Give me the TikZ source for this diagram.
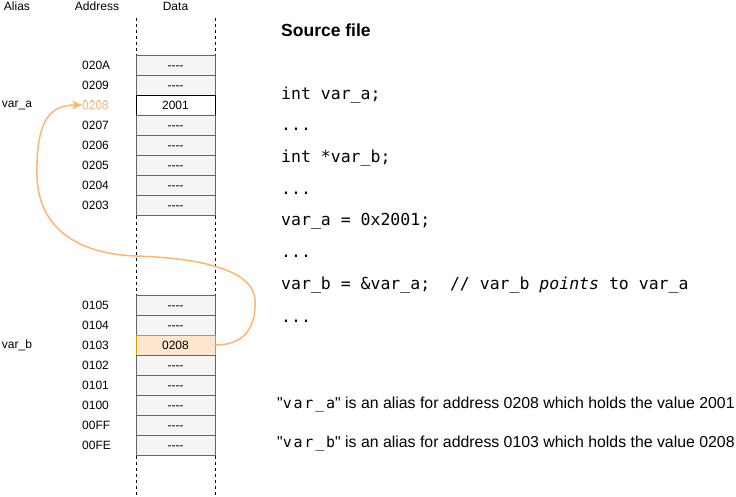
\documentclass[tikz,border=0pt]{standalone}
\usepackage{fontspec}
\setmainfont{Liberation Sans}
\setmonofont{DejaVu Sans Mono}
\newfontfamily\aliasmono[LetterSpace=12]{DejaVu Sans Mono}
\usetikzlibrary{arrows.meta}
\definecolor{cellgray}{HTML}{F5F5F5}
\definecolor{cellline}{HTML}{666666}
\definecolor{ptrfill}{HTML}{FFE6CC}
\definecolor{ptrline}{HTML}{D79B00}
\definecolor{ptrorange}{HTML}{FFB570}
\newcommand\nodata{\hbox{-}\hbox{-}\hbox{-}\hbox{-}}
\newcommand\mononame[1]{\textquotedbl{\aliasmono\fontsize{15}{18}\selectfont #1}\textquotedbl}
\tikzset{
  cell/.style={draw=cellline,fill=cellgray,line width=1pt,minimum width=79pt,minimum height=20pt,inner sep=0pt,text height=8.6pt,text depth=0pt,font=\fontsize{12}{14}\selectfont},
  cellval/.style={cell,draw=black,fill=white},
  cellptr/.style={cell,draw=ptrline,fill=ptrfill},
  addr/.style={anchor=west,inner sep=0pt,text height=8.6pt,text depth=0pt,font=\fontsize{12}{14}\selectfont},
  head/.style={inner sep=0pt,font=\fontsize{12}{14}\selectfont},
  code/.style={anchor=base west,inner sep=0pt,font=\ttfamily\fontsize{16.5}{19}\selectfont},
  note/.style={anchor=west,inner sep=0pt,font=\fontsize{15.85}{19}\selectfont},
  column/.style={line width=1pt,dash pattern=on 3pt off 3pt},
  ptr/.style={draw=ptrorange,line width=1.5pt,-{Stealth[length=10pt,width=9pt,inset=3pt]}}
}
\begin{document}
\begin{tikzpicture}[x=1pt,y=-1pt]
\useasboundingbox (0,0) rectangle (736,496);
%column edges
\draw[column](136,18)--(136,496);
\draw[column](215,18)--(215,496);
%headers
\node[head] (halias) at (17,6) {Alias};
\node[head] (haddr) at (97,6) {Address};
\node[head] (hdata) at (175.5,6) {Data};
%upper block
\foreach \a/\v/\s [count=\i from 0] in {020A/\nodata/cell,0209/\nodata/cell,0208/2001/cellval,0207/\nodata/cell,0206/\nodata/cell,0205/\nodata/cell,0204/\nodata/cell,0203/\nodata/cell}
{
  \node[\s] (c\a) at (175.5,65+20*\i) {\v};
  \node[addr] (a\a) at (82,65+20*\i) {\a};
}
%lower block
\foreach \a/\v/\s [count=\i from 0] in {0105/\nodata/cell,0104/\nodata/cell,0103/0208/cellptr,0102/\nodata/cell,0101/\nodata/cell,0100/\nodata/cell,00FF/\nodata/cell,00FE/\nodata/cell}
{
  \node[\s] (c\a) at (175.5,305+20*\i) {\v};
  \node[addr] (a\a) at (82,305+20*\i) {\a};
}
\node[addr,text=ptrorange,fill=white] at (a0208.west) {0208};
%aliases
\node[head] (vara) at (17,105) {var\_a};
\node[head] (varb) at (17,345) {var\_b};
%pointer
\draw[ptr] (c0103.east) .. controls (250,345) and (256,320) .. (255,300)
  .. controls (254,270) and (200,258) .. (136,256)
  .. controls (80,254) and (38,230) .. (37,175)
  .. controls (36,120) and (50,105) .. (a0208.west);
%source file
\node[anchor=west,inner sep=0pt,font=\bfseries\fontsize{17.5}{20}\selectfont] (title) at (281,30) {Source file};
\node[code] (l1) at (281,99) {int var\_a;};
\node[code] (l2) at (281,130.7) {...};
\node[code] (l3) at (281,162.4) {int *var\_b;};
\node[code] (l4) at (281,194) {...};
\node[code] (l5) at (281,225.8) {var\_a = 0x2001;};
\node[code] (l6) at (281,257.5) {...};
\node[code] (l7) at (281,289.5) {var\_b = \&var\_a;\ \ // var\_b \textit{points} to var\_a};
\node[code] (l8) at (281,322) {...};
%notes
\node[note] (na) at (277,405) {\mononame{var\_a} is an alias for address 0208 which holds the value 2001};
\node[note] (nb) at (277,444) {\mononame{var\_b} is an alias for address 0103 which holds the value 0208};
\end{tikzpicture}
\end{document}
